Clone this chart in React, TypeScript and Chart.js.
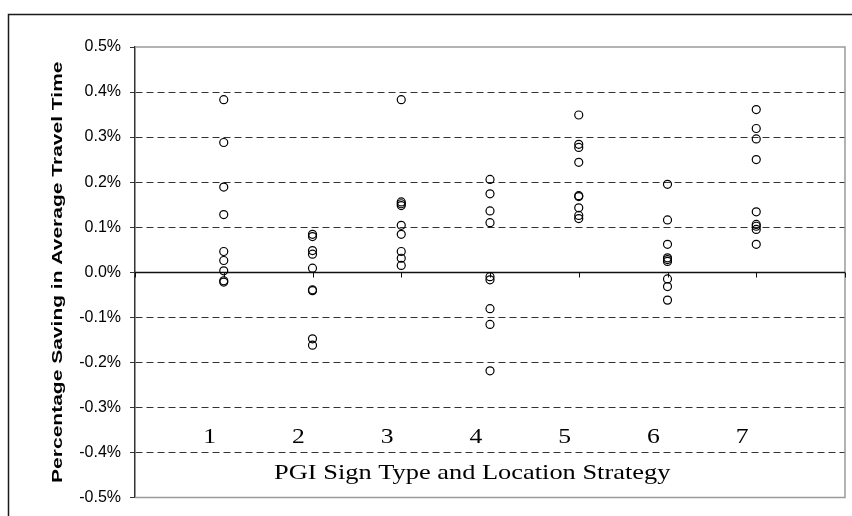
import { useEffect, useRef } from "react";
import { Chart, registerables } from "chart.js";

Chart.register(...registerables);

// Categories (PGI sign type and location strategy)
const strategies = ["1", "2", "3", "4", "5", "6", "7"];

// Percentage saving in average travel time (%) per strategy
const strategy1 = [0.383, 0.288, 0.189, 0.128, 0.046, 0.026, 0.003, -0.019, -0.022];
const strategy2 = [0.084, 0.079, 0.048, 0.040, 0.009, -0.039, -0.041, -0.148, -0.162];
const strategy3 = [0.383, 0.156, 0.152, 0.148, 0.104, 0.084, 0.046, 0.031, 0.015];
const strategy4 = [0.206, 0.174, 0.136, 0.110, -0.010, -0.017, -0.081, -0.116, -0.219];
const strategy5 = [0.349, 0.284, 0.277, 0.244, 0.170, 0.168, 0.143, 0.126, 0.119];
const strategy6 = [0.195, 0.116, 0.062, 0.032, 0.028, 0.024, -0.015, -0.032, -0.062];
const strategy7 = [0.361, 0.319, 0.296, 0.250, 0.134, 0.106, 0.102, 0.095, 0.062];

const seriesValues = [strategy1, strategy2, strategy3, strategy4, strategy5, strategy6, strategy7];

// Axis settings
const yMin = -0.5;
const yMax = 0.5;
const yStep = 0.1;
const xMin = 0;
const xMax = 8;

const xTitle = "PGI Sign Type and Location Strategy";
const yTitle = "Percentage Saving in Average Travel Time";

const SANS = '"Liberation Sans", Arial, Helvetica, sans-serif';
const SERIF = '"Liberation Serif", "Times New Roman", Times, serif';

function drawStretched(
  ctx: CanvasRenderingContext2D,
  text: string,
  x: number,
  y: number,
  font: string,
  sx: number,
  rot: number,
  align: CanvasTextAlign
) {
  ctx.save();
  ctx.translate(x, y);
  if (rot) ctx.rotate(rot);
  ctx.scale(sx, 1);
  ctx.font = font;
  ctx.fillStyle = "#000";
  ctx.textAlign = align;
  ctx.textBaseline = "alphabetic";
  ctx.fillText(text, 0, 0);
  ctx.restore();
}

const decorPlugin = {
  id: "decor",
  beforeDatasetsDraw(chart: any) {
    const { ctx, chartArea: a, scales } = chart;
    const x = scales.x;
    const y = scales.y;
    ctx.save();
    // plot frame (top, right, bottom)
    ctx.strokeStyle = "#9a9a9a";
    ctx.lineWidth = 1.5;
    ctx.beginPath();
    ctx.moveTo(a.left, a.top);
    ctx.lineTo(a.right, a.top);
    ctx.lineTo(a.right, a.bottom);
    ctx.lineTo(a.left, a.bottom);
    ctx.stroke();
    // zero axis line with category ticks
    const y0 = Math.round(y.getPixelForValue(0)) + 0.5;
    ctx.strokeStyle = "#111";
    ctx.lineWidth = 1.5;
    ctx.beginPath();
    ctx.moveTo(a.left, y0);
    ctx.lineTo(a.right, y0);
    ctx.stroke();
    ctx.lineWidth = 1;
    ctx.beginPath();
    for (let i = xMin; i <= xMax; i++) {
      const px = Math.round(x.getPixelForValue(i)) + 0.5;
      ctx.moveTo(px, y0);
      ctx.lineTo(px, y0 + 5);
    }
    ctx.stroke();
    ctx.restore();
  },
  afterDraw(chart: any) {
    const { ctx, chartArea: a, scales } = chart;
    const x = scales.x;
    const y = scales.y;
    ctx.save();
    // outer frame lines (top and left)
    ctx.strokeStyle = "#1a1a1a";
    ctx.lineWidth = 1.5;
    ctx.beginPath();
    ctx.moveTo(8.5, chart.height);
    ctx.lineTo(8.5, 14.5);
    ctx.lineTo(chart.width, 14.5);
    ctx.stroke();
    ctx.restore();

    // category labels inside the plot
    strategies.forEach((s, i) => {
      drawStretched(
        ctx,
        s,
        x.getPixelForValue(i + 1 - 0.16),
        y.getPixelForValue(-0.379),
        `21px ${SERIF}`,
        1.22,
        0,
        "center"
      );
    });
    // x title inside the plot
    drawStretched(
      ctx,
      xTitle,
      x.getPixelForValue(3.8),
      y.getPixelForValue(-0.46),
      `22px ${SERIF}`,
      1.2,
      0,
      "center"
    );
    // y title
    drawStretched(
      ctx,
      yTitle,
      62,
      (a.top + a.bottom) / 2,
      `bold 15px ${SANS}`,
      1.4,
      -Math.PI / 2,
      "center"
    );
  },
};

export default function App() {
  const canvasRef = useRef<HTMLCanvasElement | null>(null);

  useEffect(() => {
    const canvas = canvasRef.current;
    if (!canvas) return;
    const points: { x: number; y: number }[] = [];
    seriesValues.forEach((vals, i) => {
      vals.forEach((v) => points.push({ x: i + 1, y: v }));
    });

    const isEdgeOrZero = (v: number) =>
      Math.abs(v) < 1e-9 || Math.abs(Math.abs(v) - 0.5) < 1e-9;

    const chart = new Chart(canvas, {
      type: "scatter",
      data: {
        datasets: [
          {
            data: points,
            pointStyle: "circle",
            pointRadius: 4,
            pointHoverRadius: 4,
            pointBorderWidth: 1.2,
            borderColor: "#000",
            backgroundColor: "rgba(0,0,0,0)",
          },
        ],
      },
      options: {
        animation: false,
        responsive: false,
        devicePixelRatio: 1,
        layout: { padding: { left: 0, top: 47, right: 7, bottom: 15 } },
        plugins: {
          legend: { display: false },
          tooltip: { enabled: false },
        },
        scales: {
          x: {
            type: "linear",
            min: xMin,
            max: xMax,
            display: false,
          },
          y: {
            type: "linear",
            min: yMin,
            max: yMax,
            afterFit: (scale: any) => {
              scale.width = 135;
            },
            ticks: {
              stepSize: yStep,
              padding: 9,
              color: "#000",
              font: { family: SANS, size: 16 },
              callback: (v: any) => {
                const n = Math.abs(Number(v)) < 1e-9 ? 0 : Number(v);
                return n.toFixed(1) + "%";
              },
            },
            grid: {
              color: (c: any) =>
                c.tick && !isEdgeOrZero(c.tick.value) ? "#333" : "rgba(0,0,0,0)",
              lineWidth: 1,
              tickColor: "#333",
              tickLength: 5,
            },
            border: {
              display: true,
              color: "#333",
              width: 1.5,
              dash: [7, 4],
            },
          },
        },
      },
      plugins: [decorPlugin],
    });
    return () => chart.destroy();
  }, []);

  return (
    <canvas
      ref={canvasRef}
      width={852}
      height={516}
      style={{ position: "fixed", left: 0, top: 0, width: 852, height: 516, background: "#fff" }}
    />
  );
}
